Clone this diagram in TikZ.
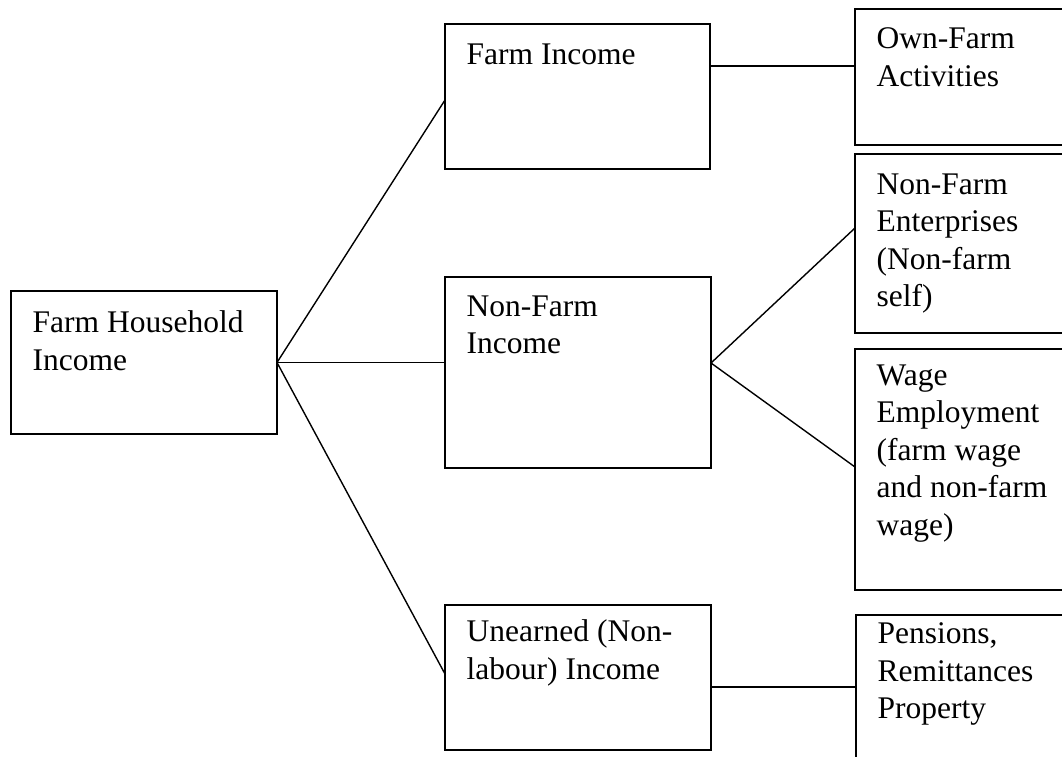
\documentclass[tikz,border=0pt]{standalone}
\usepackage{fontspec}
\setmainfont{Liberation Serif}
\begin{document}
\begin{tikzpicture}[x=1pt, y=-1pt, line width=1.4pt,
  box/.style={draw, anchor=north west, inner sep=0pt, outer sep=0pt, line width=1.7pt},
  lbl/.style={anchor=north west, inner sep=0pt, align=left, font=\fontsize{31.5}{37.5}\selectfont}]
  \useasboundingbox (0,0) rectangle (1062,757);
  \clip (0,0) rectangle (1062,757);
  % boxes: name/left/top/width/height/text inset/text
  \foreach \n/\x/\y/\w/\h/\d/\txt in {
      fhi/11/291/266/143/19/{Farm Household\\Income},
      fi/445/24/265/145/19/{Farm Income},
      nfi/445/277/266/191/18/{Non-Farm\\Income},
      ui/445/605/266/145/14/{Unearned (Non-\\labour) Income},
      ofa/855/9/260/136/18/{Own-Farm\\Activities},
      nfe/855/154/260/179/19/{Non-Farm\\Enterprises\\(Non-farm\\self)},
      we/855/349/260/241/15/{Wage\\Employment\\(farm wage\\and non-farm\\wage)},
      prp/856/615/260/200/7/{Pensions,\\Remittances\\Property}} {
    \node[box, minimum width=\w, minimum height=\h] (\n) at (\x,\y) {};
    \node[lbl] (\n-t) at ([shift={(21,\d)}]\n.north west) {\txt};
  }
  % links
  \draw (fhi.east) -- (fi.west |- 0,100);
  \draw (fhi.east) -- (nfi.west |- fhi.east);
  \draw (fhi.east) -- (ui.west |- 0,674);
  \draw (fi.east |- 0,66) -- (ofa.west |- 0,66);
  \draw (nfi.east |- 0,363) -- (nfe.west |- 0,228);
  \draw (nfi.east |- 0,363) -- (we.west |- 0,467);
  \draw (ui.east |- 0,687) -- (prp.west |- 0,687);
\end{tikzpicture}
\end{document}
